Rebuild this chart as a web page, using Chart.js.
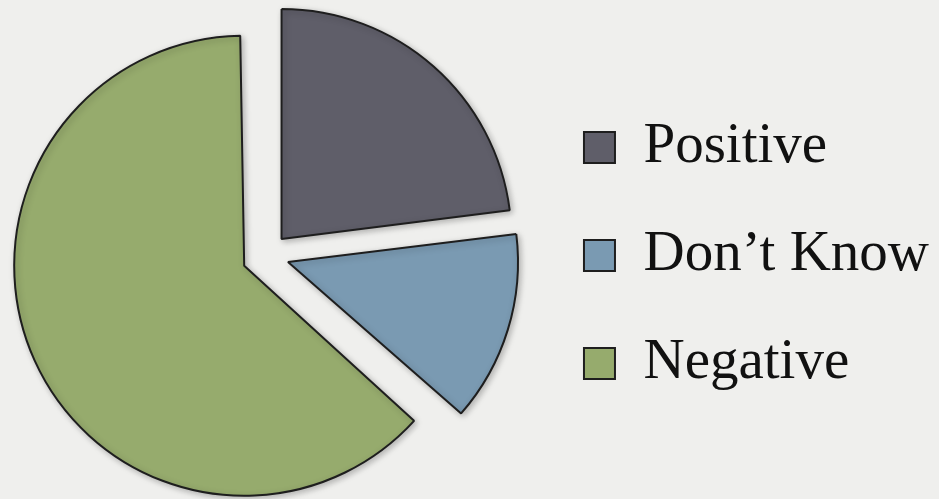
<!DOCTYPE html>
<html>
<head>
<meta charset="utf-8">
<script src="https://cdn.jsdelivr.net/npm/chart.js@4.4.1/dist/chart.umd.min.js"></script>
<style>
  html, body { margin: 0; padding: 0; background: #efefed; }
  #wrap { width: 939px; height: 499px; position: relative; }
</style>
</head>
<body>
<div id="wrap"><canvas id="opinionChart"></canvas></div>
<script>
const labels = ['Positive', 'Don\u2019t Know', 'Negative'];
const shares = [23, 13.5, 63.5];
const sliceColors = ['#5f5e69', '#7a9ab2', '#96ab6d'];

const PIE_RADIUS = 230;
const sliceOffsets = [88, 88, 100]; // chart.js translates arcs by offset / 4

// chart.js grows wide arcs by part of their offset; pull them back so every slice keeps the same radius
const evenRadius = {
  id: 'evenRadius',
  afterDatasetUpdate(chart, args) {
    args.meta.data.forEach(arc => {
      const circ = arc.endAngle - arc.startAngle;
      const fix = 1 - Math.sin(Math.min(Math.PI, circ));
      const off = (arc.options.offset || 0) / 4;
      arc.outerRadius = PIE_RADIUS - off * fix;
    });
  }
};

// soft drop shadow under the slices
const sliceShadow = {
  id: 'sliceShadow',
  beforeDatasetsDraw(chart) {
    const ctx = chart.ctx;
    ctx.save();
    ctx.shadowColor = 'rgba(0, 0, 0, 0.25)';
    ctx.shadowBlur = 6;
    ctx.shadowOffsetX = 2;
    ctx.shadowOffsetY = 2;
  },
  afterDatasetsDraw(chart) {
    chart.ctx.restore();
  }
};

const ctx = document.getElementById('opinionChart').getContext('2d');

new Chart(ctx, {
  type: 'pie',
  data: {
    labels: labels,
    datasets: [{
      data: shares,
      backgroundColor: sliceColors,
      borderColor: '#1e1e1e',
      borderWidth: 2,
      offset: sliceOffsets,
      hoverOffset: 0,
      clip: false
    }]
  },
  options: {
    responsive: true,
    maintainAspectRatio: false,
    animation: false,
    radius: PIE_RADIUS,
    layout: { padding: { left: 1, right: 0, top: 12, bottom: 0 } },
    plugins: {
      tooltip: { enabled: false },
      legend: {
        position: 'right',
        align: 'center',
        labels: {
          color: '#111111',
          font: { family: "'Liberation Serif', serif", size: 57 },
          boxWidth: 31,
          boxHeight: 31,
          padding: 51
        }
      }
    }
  },
  plugins: [evenRadius, sliceShadow]
});
</script>
</body>
</html>
